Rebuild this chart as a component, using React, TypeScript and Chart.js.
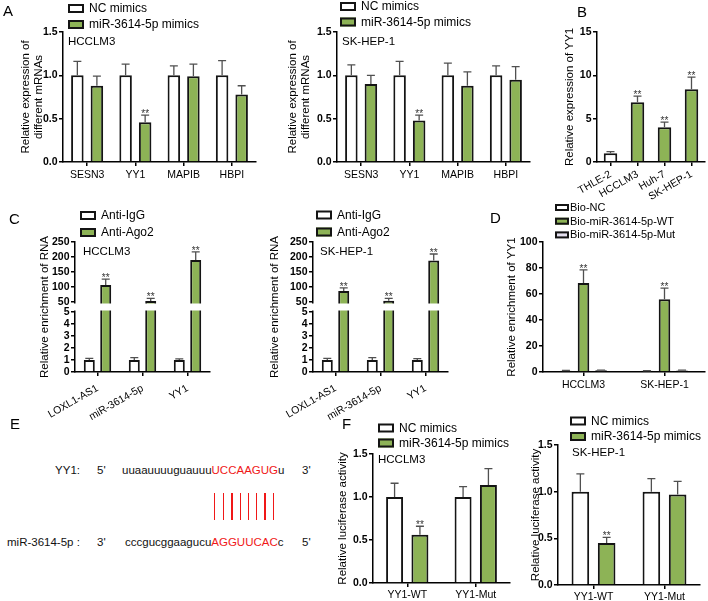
import React, { useEffect, useRef } from 'react';
import { Chart, registerables } from 'chart.js';

Chart.register(...registerables);

const FONT = "'Liberation Sans', Arial, Helvetica, sans-serif";
Chart.defaults.font.family = FONT;
Chart.defaults.color = '#000';

const GREEN = '#8DB356';
const WHITE = '#FFFFFF';
const LAVENDER = '#E4DFEF';
const EDGE = '#141414';
const ERRC = '#505050';
const RED = '#F01818';

// ---------- Panel A ----------
const aGenes = ['SESN3', 'YY1', 'MAPIB', 'HBPI'];
const aLegend = ['NC mimics', 'miR-3614-5p mimics'];
const aHccNc = [1.0, 1.0, 1.0, 1.0];
const aHccNcErr = [0.16, 0.13, 0.11, 0.17];
const aHccMir = [0.88, 0.46, 0.99, 0.78];
const aHccMirErr = [0.11, 0.08, 0.14, 0.1];
const aHccStars = ['', '**', '', ''];
const aSkNc = [1.0, 1.0, 1.0, 1.0];
const aSkNcErr = [0.12, 0.16, 0.14, 0.11];
const aSkMir = [0.9, 0.48, 0.88, 0.95];
const aSkMirErr = [0.1, 0.06, 0.16, 0.15];
const aSkStars = ['', '**', '', ''];

// ---------- Panel B ----------
const bCells = ['THLE-2', 'HCCLM3', 'Huh-7', 'SK-HEP-1'];
const bYY1 = [1.0, 6.9, 4.0, 8.4];
const bYY1Err = [0.2, 0.7, 0.6, 1.4];
const bStars = ['', '**', '**', '**'];

// ---------- Panel C ----------
const cRNAs = ['LOXL1-AS1', 'miR-3614-5p', 'YY1'];
const cLegend = ['Anti-IgG', 'Anti-Ago2'];
const cHccIgG = [1.0, 1.0, 1.0];
const cHccIgGErr = [0.14, 0.2, 0.1];
const cHccAgo = [107, 53, 190];
const cHccAgoErr = [19, 9, 27];
const cSkIgG = [1.0, 1.0, 1.0];
const cSkIgGErr = [0.13, 0.2, 0.12];
const cSkAgo = [87, 54, 188];
const cSkAgoErr = [10, 8, 22];
const cStars = ['**', '**', '**'];
const cTickValues = [0, 1, 2, 3, 4, 5, 50, 100, 150, 200, 250];

// ---------- Panel D ----------
const dCells = ['HCCLM3', 'SK-HEP-1'];
const dLegend = ['Bio-NC', 'Bio-miR-3614-5p-WT', 'Bio-miR-3614-5p-Mut'];
const dNC = [1.0, 0.9];
const dNCErr = [0.2, 0.2];
const dWT = [68.5, 56];
const dWTErr = [10, 8.5];
const dMut = [1.3, 1.2];
const dMutErr = [0.2, 0.2];
const dStars = ['**', '**'];

// ---------- Panel F ----------
const fConstructs = ['YY1-WT', 'YY1-Mut'];
const fLegend = ['NC mimics', 'miR-3614-5p mimics'];
const fHccNc = [1.0, 1.0];
const fHccNcErr = [0.16, 0.12];
const fHccMir = [0.56, 1.14];
const fHccMirErr = [0.1, 0.19];
const fSkNc = [1.0, 1.0];
const fSkNcErr = [0.19, 0.14];
const fSkMir = [0.45, 0.97];
const fSkMirErr = [0.06, 0.14];
const fStars = ['**', ''];

// ---------- helpers ----------
type Series = { label: string; values: number[]; errors: number[]; stars?: string[]; color: string | string[] };
type Spec = {
  canvas: { x: number; y: number; w: number; h: number };
  area: { l: number; t: number; r: number; b: number };
  labels: string[];
  series: Series[];
  yMin: number;
  yMax: number;
  yStep: number;
  decimals: number;
  yTitle: string | string[];
  titleX: number;
  rotation: number;
  xPad: number;
  barPct: number;
  catPct: number;
  legend?: { x: number; y: number; gap: number; bw: number; bh: number; size: number; tx: number };
  note?: { text: string; x: number; y: number };
  broken?: boolean;
};

const brk = (v: number) => (v <= 5 ? v * 12 : v < 50 ? 60 + ((v - 5) / 45) * 10 : 70 + (v - 50) * 0.3);

const decoPlugin = {
  id: 'deco',
  afterDatasetsDraw(chart: any, _args: any, opts: any) {
    const ctx = chart.ctx;
    const ys = chart.scales.y;
    const area = chart.chartArea;
    ctx.save();
    if (opts.gap) {
      const yUp = ys.getPixelForValue(opts.gap[1]);
      const yLo = ys.getPixelForValue(opts.gap[0]);
      ctx.fillStyle = '#fff';
      ctx.fillRect(area.left - 2, yUp + 1.5, area.right - area.left + 4, yLo - yUp - 3);
    }
    chart.data.datasets.forEach((ds: any, i: number) => {
      const meta = chart.getDatasetMeta(i);
      meta.data.forEach((bar: any, j: number) => {
        const top = ys.getPixelForValue(ds.errTop[j]);
        ctx.strokeStyle = ERRC;
        ctx.lineWidth = 1.3;
        ctx.beginPath();
        ctx.moveTo(bar.x, bar.y);
        ctx.lineTo(bar.x, top);
        ctx.moveTo(bar.x - 4, top);
        ctx.lineTo(bar.x + 4, top);
        ctx.stroke();
        if (ds.stars && ds.stars[j]) {
          ctx.fillStyle = '#333';
          ctx.font = `10px ${FONT}`;
          ctx.textAlign = 'center';
          ctx.textBaseline = 'alphabetic';
          ctx.fillText(ds.stars[j], bar.x, top + 2);
        }
      });
    });
    if (opts.legend) {
      const L = opts.legend;
      chart.data.datasets.forEach((ds: any, i: number) => {
        const cy = L.y + i * L.gap;
        const fill = Array.isArray(ds.backgroundColor) ? ds.backgroundColor[0] : ds.backgroundColor;
        ctx.fillStyle = fill;
        ctx.fillRect(L.x, cy - L.bh / 2, L.bw, L.bh);
        ctx.strokeStyle = EDGE;
        ctx.lineWidth = 2;
        ctx.strokeRect(L.x + 1, cy - L.bh / 2 + 1, L.bw - 2, L.bh - 2);
        ctx.fillStyle = '#000';
        ctx.font = `${L.size}px ${FONT}`;
        ctx.textAlign = 'left';
        ctx.textBaseline = 'middle';
        ctx.fillText(ds.label, L.tx, cy + 0.5);
      });
    }
    if (opts.note) {
      ctx.fillStyle = '#000';
      ctx.font = `11.5px ${FONT}`;
      ctx.textAlign = 'left';
      ctx.textBaseline = 'middle';
      ctx.fillText(opts.note.text, opts.note.x, opts.note.y);
    }
    ctx.restore();
  },
};

function buildConfig(s: Spec) {
  const tf = s.broken ? brk : (v: number) => v;
  const ox = s.canvas.x;
  const oy = s.canvas.y;
  const axisGrid = {
    display: true,
    drawOnChartArea: false,
    drawTicks: true,
    tickLength: 4,
    color: '#000',
    lineWidth: 1.5,
  };
  const yScale: any = {
    type: 'linear',
    min: s.broken ? 0 : s.yMin,
    max: s.broken ? brk(250) : s.yMax,
    grid: axisGrid,
    border: { display: true, color: '#000', width: 1.5 },
    ticks: {
      stepSize: s.yStep,
      autoSkip: false,
      padding: 1.5,
      font: { size: 10.5, weight: 'bold' },
      color: '#000',
      callback: (v: any, i: number) => (s.broken ? String(cTickValues[i]) : Number(v).toFixed(s.decimals)),
    },
    title: {
      display: true,
      text: s.yTitle,
      color: '#000',
      font: { size: 11.5, lineHeight: 1.15 },
      padding: { top: s.titleX - ox - 6.6, bottom: 0 },
    },
    afterFit: (sc: any) => {
      sc.width = s.area.l - ox;
      sc.paddingTop = 0;
      sc.paddingBottom = 0;
    },
  };
  if (s.broken) {
    yScale.afterBuildTicks = (sc: any) => {
      sc.ticks = cTickValues.map((v) => ({ value: brk(v) }));
    };
  }
  return {
    type: 'bar',
    data: {
      labels: s.labels,
      datasets: s.series.map((se) => ({
        label: se.label,
        data: se.values.map(tf),
        errTop: se.values.map((v, i) => tf(v + se.errors[i])),
        stars: se.stars,
        backgroundColor: se.color,
        borderColor: EDGE,
        borderWidth: 2,
        borderSkipped: 'start',
        barPercentage: s.barPct,
        categoryPercentage: s.catPct,
      })),
    },
    options: {
      responsive: false,
      maintainAspectRatio: false,
      animation: false,
      devicePixelRatio: 1,
      layout: {
        padding: { left: 0, top: s.area.t - oy, right: ox + s.canvas.w - s.area.r, bottom: 0 },
      },
      plugins: {
        legend: { display: false },
        tooltip: { enabled: false },
        deco: {
          gap: s.broken ? [brk(5), brk(50)] : null,
          legend: s.legend
            ? { ...s.legend, x: s.legend.x - ox, y: s.legend.y - oy, tx: s.legend.tx - ox }
            : null,
          note: s.note ? { text: s.note.text, x: s.note.x - ox, y: s.note.y - oy } : null,
        },
      },
      scales: {
        x: {
          type: 'category',
          offset: true,
          grid: { ...axisGrid, offset: false },
          border: { display: true, color: '#000', width: 1.5 },
          ticks: {
            autoSkip: false,
            maxRotation: s.rotation,
            minRotation: s.rotation,
            padding: s.xPad,
            font: { size: 10.5 },
            color: '#000',
          },
          afterFit: (sc: any) => {
            sc.height = oy + s.canvas.h - s.area.b;
            sc.paddingLeft = 0;
            sc.paddingRight = 0;
          },
        },
        y: yScale,
      },
    },
    plugins: [decoPlugin],
  };
}

const ser = (label: string, values: number[], errors: number[], color: string | string[], stars?: string[]): Series => ({
  label,
  values,
  errors,
  color,
  stars,
});

const legend2 = (x: number, y: number, gap: number) => ({ x, y, gap, bw: 16, bh: 9, size: 12, tx: x + 21 });

const specs: Spec[] = [
  {
    canvas: { x: 0, y: 0, w: 262, h: 200 },
    area: { l: 63, t: 32, r: 256, b: 162 },
    labels: aGenes,
    series: [ser(aLegend[0], aHccNc, aHccNcErr, WHITE), ser(aLegend[1], aHccMir, aHccMirErr, GREEN, aHccStars)],
    yMin: 0, yMax: 1.5, yStep: 0.5, decimals: 1,
    yTitle: ['Relative expression of', 'different mRNAs'],
    titleX: 26, rotation: 0, xPad: 3, barPct: 0.64, catPct: 0.81,
    legend: legend2(68, 8.5, 16),
    note: { text: 'HCCLM3', x: 68, y: 42 },
  },
  {
    canvas: { x: 262, y: 0, w: 270, h: 200 },
    area: { l: 337, t: 32, r: 530, b: 162 },
    labels: aGenes,
    series: [ser(aLegend[0], aSkNc, aSkNcErr, WHITE), ser(aLegend[1], aSkMir, aSkMirErr, GREEN, aSkStars)],
    yMin: 0, yMax: 1.5, yStep: 0.5, decimals: 1,
    yTitle: ['Relative expression of', 'different mRNAs'],
    titleX: 293, rotation: 0, xPad: 3, barPct: 0.64, catPct: 0.81,
    legend: legend2(340, 6.5, 15.5),
    note: { text: 'SK-HEP-1', x: 342, y: 42 },
  },
  {
    canvas: { x: 532, y: 0, w: 176, h: 205 },
    area: { l: 597, t: 32, r: 705, b: 162 },
    labels: bCells,
    series: [ser('YY1', bYY1, bYY1Err, [WHITE, GREEN, GREEN, GREEN], bStars)],
    yMin: 0, yMax: 15, yStep: 5, decimals: 0,
    yTitle: 'Relative expression of YY1',
    titleX: 570, rotation: 30, xPad: 2, barPct: 0.5, catPct: 1,
  },
  {
    canvas: { x: 0, y: 200, w: 250, h: 222 },
    area: { l: 75, t: 242, r: 210, b: 372 },
    labels: cRNAs,
    series: [ser(cLegend[0], cHccIgG, cHccIgGErr, WHITE), ser(cLegend[1], cHccAgo, cHccAgoErr, GREEN, cStars)],
    yMin: 0, yMax: 250, yStep: 50, decimals: 0,
    yTitle: 'Relative enrichment of RNA',
    titleX: 45, rotation: 30, xPad: 6, barPct: 0.67, catPct: 0.73,
    legend: legend2(80, 215.5, 17),
    note: { text: 'HCCLM3', x: 83, y: 252 },
    broken: true,
  },
  {
    canvas: { x: 250, y: 200, w: 240, h: 222 },
    area: { l: 313, t: 242, r: 448, b: 372 },
    labels: cRNAs,
    series: [ser(cLegend[0], cSkIgG, cSkIgGErr, WHITE), ser(cLegend[1], cSkAgo, cSkAgoErr, GREEN, cStars)],
    yMin: 0, yMax: 250, yStep: 50, decimals: 0,
    yTitle: 'Relative enrichment of RNA',
    titleX: 275, rotation: 30, xPad: 6, barPct: 0.67, catPct: 0.73,
    legend: legend2(316, 215, 17),
    note: { text: 'SK-HEP-1', x: 320, y: 252 },
    broken: true,
  },
  {
    canvas: { x: 490, y: 200, w: 218, h: 200 },
    area: { l: 543, t: 242, r: 705, b: 372 },
    labels: dCells,
    series: [
      ser(dLegend[0], dNC, dNCErr, WHITE),
      ser(dLegend[1], dWT, dWTErr, GREEN, dStars),
      ser(dLegend[2], dMut, dMutErr, LAVENDER),
    ],
    yMin: 0, yMax: 100, yStep: 20, decimals: 0,
    yTitle: 'Relative enrichment of YY1',
    titleX: 512, rotation: 0, xPad: 3, barPct: 0.66, catPct: 0.65,
    legend: { x: 555, y: 207.5, gap: 13.7, bw: 14, bh: 7, size: 11, tx: 570 },
  },
  {
    canvas: { x: 335, y: 405, w: 185, h: 196 },
    area: { l: 373, t: 454, r: 510, b: 583 },
    labels: fConstructs,
    series: [ser(fLegend[0], fHccNc, fHccNcErr, WHITE), ser(fLegend[1], fHccMir, fHccMirErr, GREEN, fStars)],
    yMin: 0, yMax: 1.5, yStep: 0.5, decimals: 1,
    yTitle: 'Relative luciferase activity',
    titleX: 343, rotation: 0, xPad: 2, barPct: 0.67, catPct: 0.74,
    legend: legend2(378, 428, 15),
    note: { text: 'HCCLM3', x: 378, y: 460 },
  },
  {
    canvas: { x: 520, y: 405, w: 188, h: 196 },
    area: { l: 558, t: 445, r: 700, b: 585 },
    labels: fConstructs,
    series: [ser(fLegend[0], fSkNc, fSkNcErr, WHITE), ser(fLegend[1], fSkMir, fSkMirErr, GREEN, fStars)],
    yMin: 0, yMax: 1.5, yStep: 0.5, decimals: 1,
    yTitle: 'Relative luciferase activity',
    titleX: 536, rotation: 0, xPad: 2, barPct: 0.67, catPct: 0.74,
    legend: legend2(570, 421, 15.5),
    note: { text: 'SK-HEP-1', x: 572, y: 453 },
  },
];

function ChartCanvas({ spec }: { spec: Spec }) {
  const ref = useRef<HTMLCanvasElement>(null);
  useEffect(() => {
    const chart = new Chart(ref.current as HTMLCanvasElement, buildConfig(spec) as any);
    return () => chart.destroy();
  }, []);
  return (
    <canvas
      ref={ref}
      width={spec.canvas.w}
      height={spec.canvas.h}
      style={{ position: 'absolute', left: spec.canvas.x, top: spec.canvas.y, width: spec.canvas.w, height: spec.canvas.h }}
    />
  );
}

const panelLetters = [
  { t: 'A', x: 3, y: 3 },
  { t: 'B', x: 577, y: 4 },
  { t: 'C', x: 9, y: 211 },
  { t: 'D', x: 490, y: 210 },
  { t: 'E', x: 10, y: 416 },
  { t: 'F', x: 342, y: 416 },
];

const pairLineX = [214.3, 223.3, 232, 240.3, 248.3, 256.7, 265, 273.3];

const txt = (left: number, top: number, extra: any = {}) => ({
  position: 'absolute' as const,
  left,
  top,
  fontSize: 11.5,
  lineHeight: '14px',
  whiteSpace: 'nowrap' as const,
  color: '#111',
  ...extra,
});

export default function App() {
  return (
    <div
      style={{
        position: 'absolute',
        left: 0,
        top: 0,
        width: 708,
        height: 601,
        background: '#fff',
        fontFamily: FONT,
        overflow: 'hidden',
      }}
    >
      {specs.map((s, i) => (
        <ChartCanvas key={i} spec={s} />
      ))}
      {panelLetters.map((p) => (
        <div key={p.t} style={{ position: 'absolute', left: p.x, top: p.y, fontSize: 15, lineHeight: 1, color: '#000' }}>
          {p.t}
        </div>
      ))}
      {/* Panel E: binding site alignment */}
      <div style={txt(20, 463, { width: 60, textAlign: 'right' })}>YY1:</div>
      <div style={txt(97, 463)}>5'</div>
      <div style={txt(122, 463)}>
        uuaauuuuguauuu<span style={{ color: RED }}>UCCAAGUG</span>u
      </div>
      <div style={txt(302, 463)}>3'</div>
      {pairLineX.map((x, i) => (
        <div key={i} style={{ position: 'absolute', left: x - 0.6, top: 493, width: 1.2, height: 27, background: RED }} />
      ))}
      <div style={txt(7, 535)}>miR-3614-5p :</div>
      <div style={txt(97, 535)}>3'</div>
      <div style={txt(125, 535)}>
        cccgucggaagucu<span style={{ color: RED }}>AGGUUCAC</span>c
      </div>
      <div style={txt(302, 535)}>5'</div>
    </div>
  );
}
